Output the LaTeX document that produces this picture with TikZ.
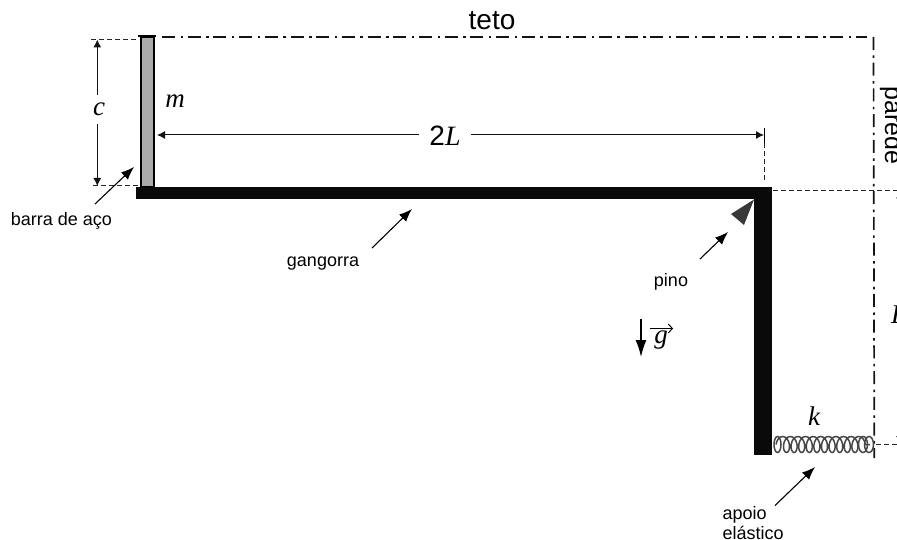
\documentclass[tikz,border=0pt]{standalone}
\usepackage{fontspec}
\setmainfont{Liberation Sans}
\newfontfamily\serifit[Ligatures=TeX]{Liberation Serif}
\usetikzlibrary{arrows.meta,decorations.pathmorphing}
\tikzset{
  wallline/.style={line width=1.7pt,dash pattern=on 13pt off 5.5pt on 2.5pt off 4.7pt,black!92},
  guide/.style={line width=1pt,dash pattern=on 5pt off 3pt,black!85},
  beam/.style={fill=black!96,draw=none},
  dim/.style={line width=1pt,black!92},
  pointer/.style={line width=1.1pt,black,-{Latex[length=13pt,width=10pt]}},
  lab/.style={inner sep=0pt,font=\fontsize{18}{20}\selectfont},
  big/.style={inner sep=0pt,font=\fontsize{25}{27}\selectfont},
  var/.style={inner sep=0pt,font=\fontsize{27}{29}\selectfont\serifit\itshape},
  coilline/.style={black!72,line width=1.5pt}
}
\begin{document}
\begin{tikzpicture}[x=1pt,y=-1pt]
\useasboundingbox (0,0) rectangle (897,540);
\clip (0,0) rectangle (897,540);
\coordinate (ceilA) at (162,37.3);
\coordinate (ceilB) at (867,37.3);
\coordinate (wallA) at (873.5,37);
\coordinate (wallB) at (874.3,458);
\draw[wallline] (ceilA) -- (ceilB);
\draw[wallline] (wallA) -- (wallB);
% bar
\node[draw=black,line width=2pt,fill=black!33,minimum width=13pt,minimum height=150pt,inner sep=0pt,anchor=north] (bar) at (147,36.5) {};
\coordinate (capL) at (137.7,36); \coordinate (capR) at (156,36);
\draw[line width=2pt] (capL) -- (capR);
% guides
\coordinate (cT1) at (91,39.5); \coordinate (cT2) at (138,39.5);
\coordinate (cB1) at (93,186); \coordinate (cB2) at (138,186);
\draw[guide] (cT1) -- (cT2);
\draw[guide] (cB1) -- (cB2);
\coordinate (d1) at (764,143); \coordinate (d2) at (764,180);
\draw[guide] (d1) -- (d2);
\coordinate (h1) at (773,190.5); \coordinate (h2) at (897,190.5);
\draw[guide] (h1) -- (h2);
\coordinate (b1) at (876,444); \coordinate (b2) at (897,444);
\draw[guide] (b1) -- (b2);
% beams
\fill[beam] (136.3,186.7) rectangle (771.7,199.3);
\fill[beam] (754.3,186.7) rectangle (771.7,454.7);
\fill[black!78] (754,199.5) -- (731,214) -- (744,225) -- cycle;
% dim c
\node[var] (c) at (99,109) {c};
\coordinate (cA) at (97.3,39.5); \coordinate (cB) at (97.3,186);
\coordinate (cU) at (97.3,95); \coordinate (cD) at (97.3,124);
\draw[dim,-{Latex[length=8pt,width=8pt]}] (cU) -- (cA);
\draw[dim,-{Latex[length=8pt,width=8pt]}] (cD) -- (cB);
\node[var] (m) at (175,101) {m};
% dim 2L
\node[big,font=\fontsize{28}{30}\selectfont] (tL) at (445,135.5) {2\serifit\itshape L};
\coordinate (LA) at (157,135); \coordinate (LB) at (764,135);
\coordinate (LU) at (419,135); \coordinate (LD) at (471,135);
\draw[dim,-{Latex[length=8pt,width=8pt]}] (LU) -- (LA);
\draw[dim,-{Latex[length=8pt,width=8pt]}] (LD) -- (LB);
\coordinate (t1) at (764,128); \coordinate (t2) at (764,143);
\draw[line width=1pt] (t1) -- (t2);
% h dimension, clipped by the picture's edge
\coordinate (hA) at (900,190.5); \coordinate (hB) at (900,444);
\coordinate (hU) at (900,250); \coordinate (hD) at (900,380);
\draw[dim,-{Latex[length=8pt,width=8pt]}] (hU) -- (hA);
\draw[dim,-{Latex[length=8pt,width=8pt]}] (hD) -- (hB);
\node[var,anchor=base west] (hh) at (891,323) {L};
% spring
\coordinate (sA) at (776,444.5); \coordinate (sB) at (870,444.5);
\draw[coilline,decoration={coil,aspect=.6,segment length=7.6pt,amplitude=8pt},decorate] (sA) -- (sB);
\draw[coilline] (863,444.5) ellipse (4.5pt and 8pt);
\draw[coilline] (869,444.5) ellipse (4.5pt and 8pt);
\draw[coilline] (777.5,444.5) ellipse (3.5pt and 8pt);
\node[var] (k) at (814,416) {k};
% labels
\node[big,font=\fontsize{28}{30}\selectfont] (teto) at (492,21) {teto};
\node[big,rotate=-90,anchor=base] (parede) at (885,125.5) {parede};
\node[lab] (tbar) at (61.5,221) {barra de aço};
\node[lab] (tgan) at (323,264) {gangorra};
\node[lab] (tpino) at (671,282) {pino};
\node[lab,anchor=base west] (tap) at (722.5,519) {apoio};
\node[lab,anchor=base west] (tap2) at (722.5,539) {elástico};
\coordinate (p1s) at (95,204); \coordinate (p1e) at (134,167);
\coordinate (p2s) at (372,248); \coordinate (p2e) at (412,209);
\coordinate (p3s) at (700,259); \coordinate (p3e) at (728,232);
\coordinate (p4s) at (775,505.5); \coordinate (p4e) at (815,467);
\draw[pointer] (p1s) -- (p1e);
\draw[pointer] (p2s) -- (p2e);
\draw[pointer] (p3s) -- (p3e);
\draw[pointer] (p4s) -- (p4e);
% g
\coordinate (g1) at (641,319); \coordinate (g2) at (641,357);
\draw[line width=1.5pt,-{Latex[length=17pt,width=11pt]}] (g1) -- (g2);
\coordinate (v1) at (650,328.5); \coordinate (v2) at (673,328.5);
\draw[line width=1pt,-{Straight Barb[length=4pt,width=9pt]}] (v1) -- (v2);
\node[var,anchor=base] (g) at (661,343) {g};
\end{tikzpicture}
\end{document}
